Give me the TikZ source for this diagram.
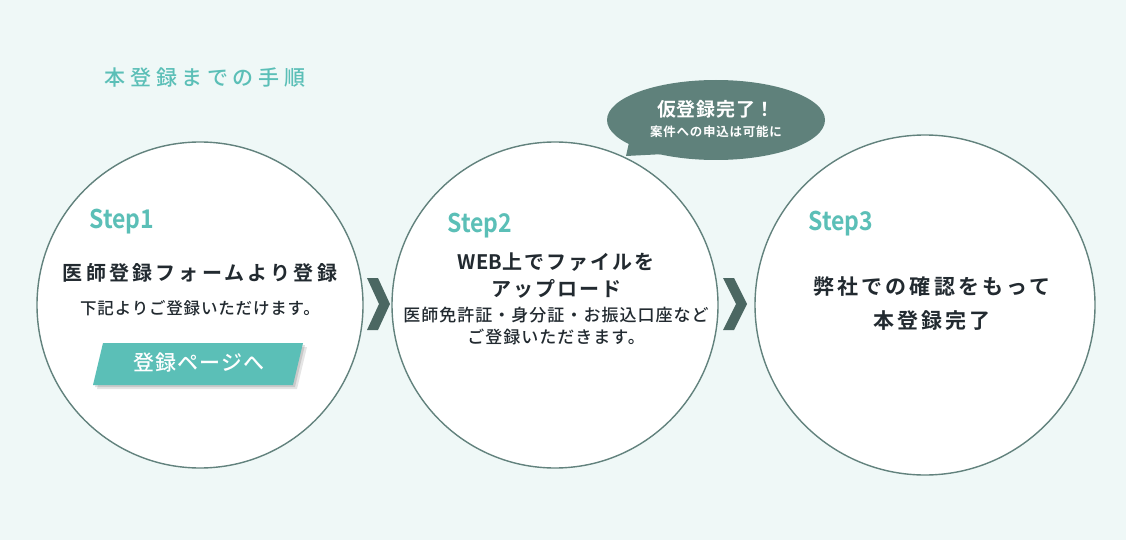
\documentclass[tikz,border=0pt]{standalone}
\usepackage{fontspec}
\setmainfont{Noto Sans CJK JP Medium}[BoldFont={Noto Sans CJK JP Bold}]
\usetikzlibrary{shapes.geometric}
\definecolor{bgc}{HTML}{EFF8F7}
\definecolor{teal}{HTML}{5BBFB7}
\definecolor{edgec}{HTML}{62827D}
\definecolor{chev}{HTML}{4B6762}
\definecolor{bub}{HTML}{5F817B}
\definecolor{ink}{HTML}{222A30}
\newcommand{\fs}[3]{\fontsize{#1}{#2}\selectfont\addfontfeature{LetterSpace=#3}}
\tikzset{
  stepcircle/.style={circle, draw=edgec, line width=1.4pt, fill=white, inner sep=0pt},
  steplabel/.style={text=teal, font=\bfseries\fs{23}{26}{0}, yscale=1.12},
  headtext/.style={text=ink, font=\bfseries\fs{20}{27}{16}, align=center},
  subtext/.style={text=ink, font=\fs{16.5}{22}{5}, align=center},
  chevron/.style={fill=chev, draw=none},
}
\begin{document}
\begin{tikzpicture}[x=1pt,y=-1pt]
\useasboundingbox (0,0) rectangle (1126,540);
\fill[bgc] (0,0) rectangle (1126,540);
% title
\node[text=teal, font=\fs{21}{24}{22}] (title) at (205,78) {本登録までの手順};
% circles
\node[stepcircle, minimum size=326pt] (c1) at (200,305) {};
\node[stepcircle, minimum size=326pt] (c2) at (555,305) {};
\node[stepcircle, minimum size=340pt] (c3) at (925,305) {};
% bubble
\node[ellipse, fill=bub, minimum width=218pt, minimum height=80pt, inner sep=0pt] (bub) at (716,120) {};
\fill[bub] (630,138) -- (626,156) -- (665,154) -- cycle;
\node[text=white, font=\bfseries\fs{19}{22}{4}] (bubt) at (716,109) {仮登録完了！};
\node[text=white, font=\bfseries\fs{12.5}{15}{6}] (bubs) at (716,132) {案件への申込は可能に};
% chevrons
\fill[chevron] (367,278) -- (378,278) -- (390,304) -- (378,330) -- (367,330) -- (379,304) -- cycle;
\fill[chevron] (723,278) -- (734,278) -- (747,304) -- (734,330) -- (723,330) -- (736,304) -- cycle;
% step 1
\node[steplabel] (s1) at (122,222) {Step1};
\node[headtext] (h1) at (200,273) {医師登録フォームより登録};
\node[subtext] (t1) at (200,308) {下記よりご登録いただけます。};
\fill[black, opacity=0.10] (107,347) -- (307,347) -- (297,389) -- (97,389) -- cycle;
\fill[black, opacity=0.12] (105,345) -- (305,345) -- (295,387) -- (95,387) -- cycle;
\fill[teal] (103,343) -- (303,343) -- (293,385) -- (93,385) -- cycle;
\node[text=white, font=\fs{21}{24}{6}] (btn) at (199,363) {登録ページへ};
% step 2
\node[steplabel] (s2) at (480,226) {Step2};
\node[headtext, font=\bfseries\fs{20}{27}{10}] (h2) at (556,276) {{\addfontfeature{LetterSpace=0}WEB}上でファイルを\\アップロード};
\node[subtext, font=\fs{17}{22}{6}] (t2) at (556,326) {医師免許証・身分証・お振込口座など\\ご登録いただきます。};
% step 3
\node[steplabel] (s3) at (841,224) {Step3};
\node[headtext, font=\bfseries\fs{21}{34}{15}] (h3) at (932,304) {弊社での確認をもって\\本登録完了};
\end{tikzpicture}
\end{document}
